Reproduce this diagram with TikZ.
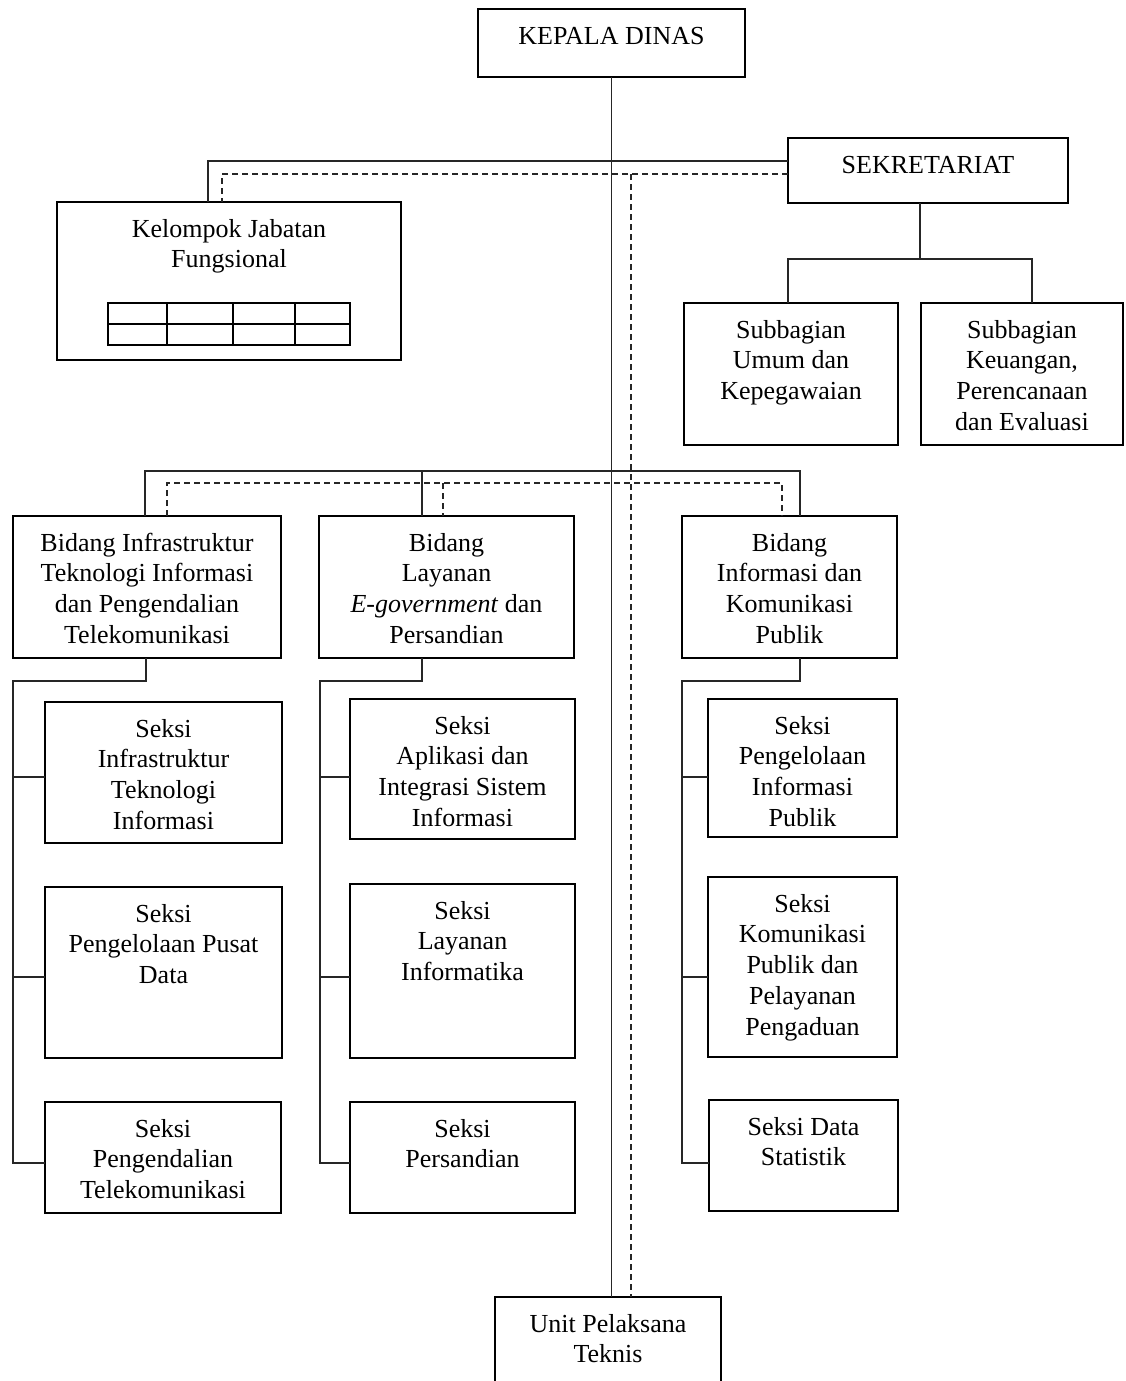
\documentclass[tikz,border=0pt]{standalone}
\usepackage{fontspec}
\setmainfont{Liberation Serif}
\begin{document}
\begin{tikzpicture}[x=1pt,y=-1pt,
  box/.style={draw=black,line width=2.4pt,inner sep=0pt,outer sep=0pt},
  txt/.style={align=center,inner sep=0pt,font=\fontsize{26}{30.7}\selectfont},
  conn/.style={draw=black!85,line width=1.1pt},
  dsh/.style={draw=black!85,line width=1.1pt,dash pattern=on 6pt off 4pt}]
\useasboundingbox (0,0) rectangle (1125,1381);
\clip (0,0) rectangle (1125,1381);
\newcommand\orgbox[6]{%
  \node[box,minimum width={(#4-#2)*1pt},minimum height={(#5-#3)*1pt}] (#1) at ({(#2+#4)/2},{(#3+#5)/2}) {};
  \node[txt,anchor=north] (#1t) at ([yshift=-16pt]#1.north) {\rule{0pt}{19pt}#6};}
% boxes
\orgbox{kep}{478}{9}{745}{77}{KEPALA DINAS}
\orgbox{sek}{788}{138}{1068}{203}{SEKRETARIAT}
\orgbox{kel}{57}{202}{401}{360}{Kelompok Jabatan\\Fungsional}
\orgbox{sub1}{684}{303}{898}{445}{Subbagian\\Umum dan\\Kepegawaian}
\orgbox{sub2}{921}{303}{1123}{445}{Subbagian\\Keuangan,\\Perencanaan\\dan Evaluasi}
\orgbox{bid1}{13}{516}{281}{658}{Bidang Infrastruktur\\Teknologi Informasi\\dan Pengendalian\\Telekomunikasi}
\orgbox{bid2}{319}{516}{574}{658}{Bidang\\Layanan\\\textit{E-government} dan\\Persandian}
\orgbox{bid3}{682}{516}{897}{658}{Bidang\\Informasi dan\\Komunikasi\\Publik}
\orgbox{s11}{45}{702}{282}{843}{Seksi\\Infrastruktur\\Teknologi\\Informasi}
\orgbox{s12}{45}{887}{282}{1058}{Seksi\\Pengelolaan Pusat\\Data}
\orgbox{s13}{45}{1102}{281}{1213}{Seksi\\Pengendalian\\Telekomunikasi}
\orgbox{s21}{350}{699}{575}{839}{Seksi\\Aplikasi dan\\Integrasi Sistem\\Informasi}
\orgbox{s22}{350}{884}{575}{1058}{Seksi\\Layanan\\Informatika}
\orgbox{s23}{350}{1102}{575}{1213}{Seksi\\Persandian}
\orgbox{s31}{708}{699}{897}{837}{Seksi\\Pengelolaan\\Informasi\\Publik}
\orgbox{s32}{708}{877}{897}{1057}{Seksi\\Komunikasi\\Publik dan\\Pelayanan\\Pengaduan}
\orgbox{s33}{709}{1100}{898}{1211}{Seksi Data\\Statistik}
\orgbox{unit}{495}{1297}{721}{1400}{Unit Pelaksana\\Teknis}
% table in Kelompok Jabatan Fungsional
\draw[line width=2.2pt] (108,303) rectangle (350,345);
\draw[line width=1.3pt] (108,324) -- (350,324) (167,303) -- (167,345) (233,303) -- (233,345) (295,303) -- (295,345);
% main line
\draw[conn] (kep.south) -- (kep.south |- unit.north);
% sekretariat to kelompok
\draw[conn] (sek.west |- 0,161) -| (kel.north -| 208,0);
\draw[dsh] (sek.west |- 0,174) -| (kel.north -| 222,0);
\coordinate (dj) at (631,174);
\draw[dsh] (dj) -- (unit.north -| dj);
% sekretariat to subbagian
\draw[conn] (sek.south -| 920,0) -- (920,259);
\draw[conn] (sub1.north -| 788,0) -- (788,259) -| (sub2.north -| 1032,0);
% bidang
\draw[conn] (bid1.north -| 145,0) -- (145,471) -| (bid3.north -| 800,0);
\draw[conn] (422,471) -- (bid2.north -| 422,0);
\draw[dsh] (bid1.north -| 167,0) -- (167,483) -| (bid3.north -| 782,0);
\draw[dsh] (443,483) -- (bid2.north -| 443,0);
% column 1
\draw[conn] (bid1.south -| 146,0) -- (146,681) -| (13,1163) -- (s13.west |- 0,1163);
\draw[conn] (13,777) -- (s11.west |- 0,777);
\draw[conn] (13,977) -- (s12.west |- 0,977);
% column 2
\draw[conn] (bid2.south -| 422,0) -- (422,681) -| (320,1163) -- (s23.west |- 0,1163);
\draw[conn] (320,777) -- (s21.west |- 0,777);
\draw[conn] (320,977) -- (s22.west |- 0,977);
% column 3
\draw[conn] (bid3.south -| 800,0) -- (800,681) -| (682,1163) -- (s33.west |- 0,1163);
\draw[conn] (682,777) -- (s31.west |- 0,777);
\draw[conn] (682,977) -- (s32.west |- 0,977);
\end{tikzpicture}
\end{document}
